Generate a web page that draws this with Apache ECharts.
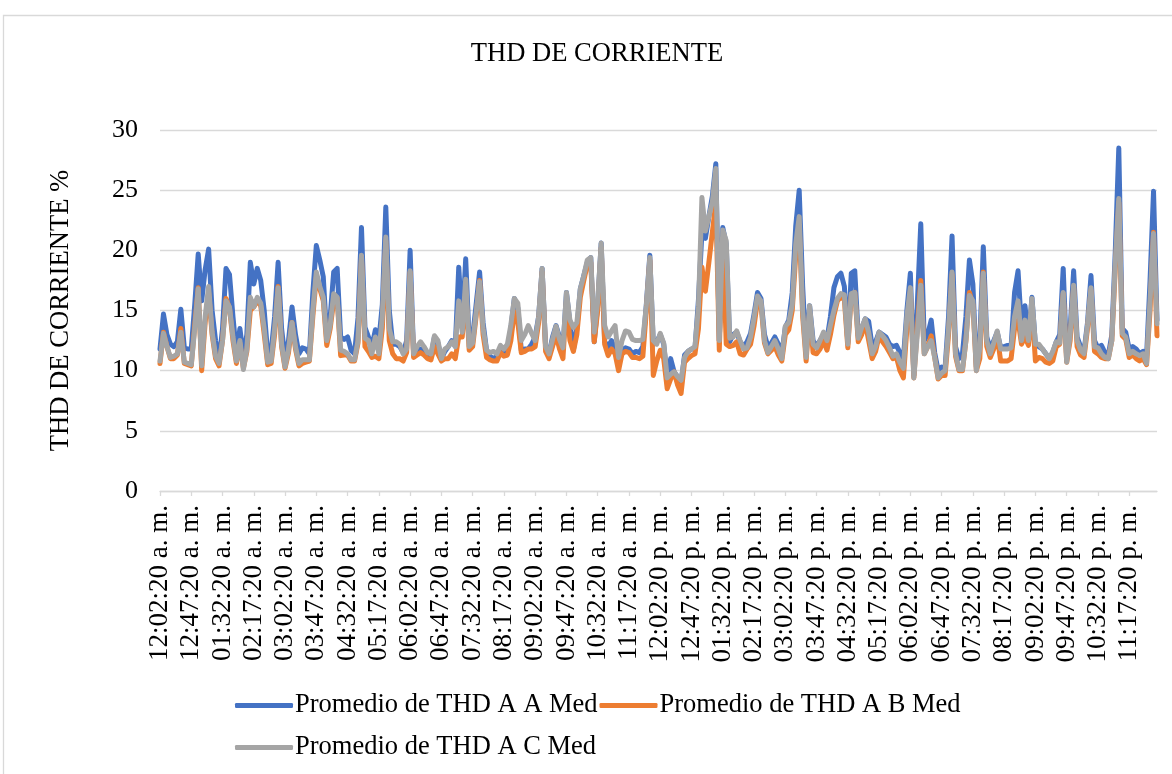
<!DOCTYPE html>
<html>
<head>
<meta charset="utf-8">
<title>THD DE CORRIENTE</title>
<script src="https://cdn.jsdelivr.net/npm/echarts@6/dist/echarts.min.js"></script>
<style>
  html, body { margin: 0; padding: 0; background: #ffffff; }
  #chart { width: 1172px; height: 774px; }
</style>
</head>
<body>
<div id="chart"></div>
<script>
// Time stamps: one reading every 5 minutes over a full day, starting at 12:02:20 a. m.
const startMinute = 2;
const stepMinutes = 5;
const pointCount = 288;
const categories = [];
for (let k = 0; k < pointCount; k++) {
  const total = startMinute + k * stepMinutes;
  const h24 = Math.floor(total / 60);
  const mm = total % 60;
  const h12 = (h24 % 12) === 0 ? 12 : h24 % 12;
  const suffix = h24 < 12 ? 'a. m.' : 'p. m.';
  categories.push(String(h12).padStart(2, '0') + ':' + String(mm).padStart(2, '0') + ':20 ' + suffix);
}

const seriesNames = ['Promedio de THD A A Med', 'Promedio de THD A B Med', 'Promedio de THD A C Med'];

// THD de corriente, fase A (%)
const thdA = [
  11.8, 14.7, 13.0, 12.2, 12.0, 12.4, 15.1, 11.9, 11.8, 11.8,
  15.5, 19.7, 15.8, 18.4, 20.1, 15.0, 12.5, 10.8, 13.5, 18.5,
  18.0, 14.5, 11.4, 13.5, 11.2, 13.0, 19.0, 17.2, 18.5, 17.5,
  15.0, 11.4, 11.6, 14.5, 19.0, 13.5, 11.0, 12.5, 15.3, 13.0,
  11.4, 11.9, 11.8, 11.4, 16.5, 20.4, 19.2, 17.8, 12.8, 14.5,
  18.2, 18.5, 12.8, 12.6, 12.8, 11.7, 11.4, 14.4, 21.9, 13.6,
  12.8, 12.0, 13.4, 12.5, 15.5, 23.6, 15.0, 12.2, 12.2, 12.0,
  11.5, 12.5, 20.0, 11.4, 11.6, 11.8, 11.6, 11.4, 11.2, 12.8,
  12.3, 11.0, 11.6, 12.0, 12.5, 12.0, 18.6, 13.6, 19.3, 12.5,
  12.8, 15.5, 18.2, 14.0, 11.7, 11.2, 11.0, 11.2, 11.7, 11.4,
  11.6, 13.5, 16.0, 15.2, 11.7, 11.8, 11.8, 12.2, 12.8, 14.5,
  18.5, 12.0, 11.4, 12.8, 13.75, 12.8, 11.8, 16.5, 14.0, 11.7,
  13.5, 16.8, 17.9, 19.0, 19.4, 12.4, 15.5, 20.6, 12.4, 12.0,
  12.5, 11.7, 11.2, 11.7, 11.9, 11.8, 11.4, 11.6, 11.5, 12.0,
  15.5, 19.6, 12.2, 12.4, 13.0, 12.2, 9.4, 11.0, 9.9, 9.5,
  9.0, 11.3, 11.6, 11.8, 11.8, 15.9, 21.5, 21.0, 22.8, 24.5,
  27.2, 12.5, 21.9, 20.5, 12.4, 13.0, 13.2, 12.4, 12.0, 12.4,
  13.1, 14.7, 16.5, 16.0, 13.0, 12.0, 12.3, 12.8, 12.2, 11.4,
  13.6, 14.2, 16.5, 22.0, 25.0, 17.0, 11.4, 15.4, 12.5, 12.0,
  12.5, 13.0, 12.6, 14.5, 16.9, 17.8, 18.1, 17.0, 12.3, 18.1,
  18.3, 12.9, 13.5, 14.3, 14.1, 12.0, 12.4, 13.2, 13.0, 12.8,
  12.2, 12.0, 12.1, 11.5, 11.0, 15.0, 18.1, 9.6, 15.5, 22.2,
  12.5, 13.0, 14.2, 11.5, 10.0, 10.3, 10.2, 14.5, 21.2, 12.0,
  11.0, 11.4, 14.5, 19.2, 17.2, 10.3, 12.5, 20.3, 12.8, 11.8,
  12.5, 13.2, 11.9, 12.0, 12.1, 12.0, 16.5, 18.3, 13.5, 15.4,
  12.5, 16.1, 12.2, 12.0, 11.8, 11.4, 11.0, 11.5, 12.4, 13.0,
  18.5, 11.0, 13.5, 18.3, 12.8, 12.0, 11.6, 14.0, 17.9, 12.5,
  11.9, 12.1, 11.5, 11.3, 13.0, 20.0, 28.5, 13.5, 13.2, 11.8,
  12.0, 11.8, 11.4, 11.6, 11.2, 17.5, 24.9, 14.2
];

// THD de corriente, fase B (%)
const thdB = [
  10.6, 13.2, 12.0, 11.0, 11.0, 11.3, 13.5, 10.6, 10.5, 10.4,
  13.8, 16.9, 10.0, 14.0, 16.5, 13.0, 11.0, 10.4, 12.5, 16.0,
  15.2, 12.5, 10.6, 12.3, 10.2, 11.6, 15.0, 15.3, 15.8, 15.4,
  13.0, 10.5, 10.6, 13.0, 17.0, 12.0, 10.2, 11.5, 14.0, 11.8,
  10.4, 10.6, 10.7, 10.8, 14.5, 17.8, 16.8, 15.8, 12.1, 13.5,
  15.8, 16.0, 11.25, 11.3, 11.3, 10.8, 10.8, 12.3, 19.4, 12.0,
  11.6, 11.1, 11.2, 11.0, 13.5, 20.8, 12.5, 11.4, 11.0, 11.0,
  10.8, 11.5, 18.2, 11.1, 11.3, 11.5, 11.3, 11.0, 10.9, 12.0,
  11.4, 10.8, 11.0, 11.0, 11.4, 11.0, 12.8, 12.8, 16.7, 11.7,
  12.0, 14.5, 17.5, 13.0, 11.1, 10.9, 10.8, 10.8, 11.5, 11.2,
  11.3, 12.5, 14.9, 14.0, 11.5, 11.6, 11.8, 11.8, 12.0, 14.0,
  18.2, 11.6, 11.0, 12.0, 13.0, 11.8, 11.0, 15.8, 12.5, 11.6,
  13.0, 16.1, 17.5, 18.8, 19.0, 12.4, 15.0, 20.2, 12.2, 11.25,
  11.8, 11.4, 10.0, 11.4, 11.6, 11.5, 11.1, 11.1, 11.0, 11.2,
  15.0, 19.2, 9.6, 10.8, 11.7, 11.0, 8.5, 9.3, 9.9, 8.8,
  8.1, 10.7, 11.0, 11.25, 11.4, 13.5, 18.6, 16.6, 19.0, 21.5,
  24.0, 11.7, 21.0, 12.2, 12.0, 12.1, 12.4, 11.4, 11.3, 11.8,
  12.2, 13.7, 15.8, 15.5, 12.3, 11.4, 11.7, 12.0, 11.3, 10.8,
  13.0, 13.4, 15.0, 19.5, 22.0, 14.5, 10.8, 14.8, 11.5, 11.4,
  11.8, 12.5, 11.7, 13.0, 14.6, 15.8, 16.1, 15.9, 11.9, 16.3,
  16.5, 12.4, 13.0, 14.0, 12.5, 11.0, 11.6, 12.9, 12.4, 12.0,
  11.5, 11.0, 11.1, 10.0, 9.4, 13.5, 16.6, 9.4, 13.5, 17.5,
  11.4, 12.0, 12.9, 11.1, 9.3, 9.6, 9.6, 13.0, 18.0, 11.2,
  10.0, 10.0, 12.5, 16.5, 15.5, 10.0, 11.0, 18.2, 12.0, 11.1,
  11.8, 12.9, 10.8, 10.8, 10.8, 11.0, 13.5, 14.2, 12.2, 12.8,
  12.1, 15.3, 10.8, 11.1, 11.0, 10.7, 10.6, 10.8, 12.0, 12.2,
  16.4, 10.7, 12.5, 17.0, 12.0, 11.3, 11.1, 13.5, 16.7, 11.6,
  11.4, 11.1, 11.0, 11.0, 12.5, 18.5, 24.0, 12.9, 12.6, 11.1,
  11.3, 11.0, 10.8, 11.0, 10.5, 15.0, 21.5, 12.9
];

// THD de corriente, fase C (%)
const thdC = [
  10.8, 13.1, 12.0, 11.1, 11.2, 11.4, 13.2, 10.7, 10.6, 10.5,
  13.5, 16.8, 10.4, 14.5, 17.0, 13.2, 11.2, 10.6, 12.5, 15.8,
  15.3, 12.8, 10.8, 12.5, 10.1, 11.8, 16.1, 15.3, 16.1, 15.6,
  13.5, 10.7, 10.8, 13.5, 16.9, 12.2, 10.3, 11.8, 14.0, 12.0,
  10.6, 10.9, 10.9, 10.9, 15.0, 18.2, 17.0, 16.1, 12.5, 13.8,
  16.4, 16.1, 11.7, 11.6, 11.4, 10.9, 10.9, 12.5, 19.6, 12.7,
  12.5, 11.4, 12.8, 11.4, 14.5, 21.1, 13.5, 12.4, 12.4, 12.2,
  11.4, 11.8, 18.3, 11.4, 12.0, 12.4, 12.0, 11.5, 11.4, 12.9,
  12.5, 11.0, 11.8, 12.0, 12.4, 12.0, 15.8, 13.2, 17.6, 12.0,
  12.3, 14.8, 17.4, 13.5, 11.7, 11.5, 11.6, 11.4, 12.1, 11.8,
  12.2, 13.8, 16.0, 15.6, 12.5, 13.0, 13.75, 13.1, 12.5, 14.5,
  18.5, 12.0, 11.4, 12.6, 13.7, 12.6, 11.9, 16.5, 14.2, 13.6,
  14.0, 16.8, 17.9, 19.2, 19.4, 13.2, 15.8, 20.6, 13.75, 12.8,
  13.3, 13.75, 11.1, 12.5, 13.3, 13.2, 12.6, 12.5, 12.5, 12.6,
  15.4, 19.4, 12.5, 12.2, 13.1, 12.3, 9.4, 9.7, 9.9, 9.5,
  9.2, 11.1, 11.6, 11.8, 12.0, 15.3, 24.4, 21.6, 22.8, 24.0,
  26.8, 12.5, 21.7, 20.8, 12.7, 12.8, 13.3, 12.5, 11.8, 11.9,
  12.8, 14.4, 16.2, 15.8, 12.5, 11.5, 12.0, 12.5, 11.8, 11.0,
  13.7, 14.0, 15.5, 20.5, 22.8, 15.0, 11.1, 15.4, 12.2, 11.9,
  12.5, 13.2, 12.5, 13.8, 15.0, 16.0, 16.4, 16.3, 12.2, 16.4,
  16.5, 12.7, 13.6, 14.3, 13.2, 11.4, 12.0, 13.2, 12.9, 12.5,
  11.9, 11.2, 11.4, 10.7, 10.2, 14.5, 16.9, 9.4, 13.0, 17.1,
  11.4, 12.0, 12.5, 11.1, 9.4, 9.8, 10.0, 13.5, 18.2, 11.4,
  10.1, 10.1, 12.5, 16.25, 15.8, 10.0, 11.9, 18.1, 12.5, 11.4,
  12.3, 13.3, 11.8, 11.8, 11.8, 11.9, 14.5, 15.8, 12.5, 14.2,
  12.5, 16.0, 12.2, 12.2, 11.8, 11.4, 11.0, 11.6, 12.4, 12.3,
  16.5, 10.7, 13.0, 17.1, 12.5, 11.7, 11.4, 13.8, 16.9, 12.0,
  11.9, 11.4, 11.1, 11.0, 12.5, 19.0, 24.3, 13.1, 12.8, 11.4,
  11.6, 11.4, 11.25, 11.4, 10.6, 15.8, 21.4, 13.9
];

const seriesColors = ['#4472C4', '#ED7D31', '#A5A5A5'];
const fontFamily = "'Liberation Serif', 'Times New Roman', serif";
const textColor = '#000000';
const gridColor = '#d9d9d9';

const chart = echarts.init(document.getElementById('chart'), null, { renderer: 'canvas' });

function lineSeries(name, values, color) {
  return {
    name: name,
    type: 'line',
    data: values,
    showSymbol: false,
    symbol: 'none',
    lineStyle: { color: color, width: 5, cap: 'round', join: 'round' },
    itemStyle: { color: color },
    emphasis: { disabled: true }
  };
}

const legendText = { fontFamily: fontFamily, fontSize: 26.5, color: textColor, padding: [0, 0, 0, -3] };

chart.setOption({
  animation: false,
  backgroundColor: '#ffffff',
  graphic: [{
    type: 'rect',
    z: -10,
    shape: { x: 3.5, y: 15.5, width: 1400, height: 900 },
    style: { fill: 'none', stroke: gridColor, lineWidth: 1.3 }
  }],
  title: {
    text: 'THD DE CORRIENTE',
    left: 592,
    top: 36,
    textAlign: 'center',
    textStyle: { fontFamily: fontFamily, fontSize: 26.6, fontWeight: 'normal', color: textColor }
  },
  legend: [
    {
      data: [seriesNames[0], seriesNames[1]],
      left: 235,
      top: 692,
      padding: 0,
      orient: 'horizontal',
      icon: 'roundRect',
      itemWidth: 58,
      itemHeight: 5,
      itemGap: 2,
      textStyle: legendText
    },
    {
      data: [seriesNames[2]],
      left: 235,
      top: 734,
      padding: 0,
      icon: 'roundRect',
      itemWidth: 58,
      itemHeight: 5,
      textStyle: legendText
    }
  ],
  grid: { left: 160, right: 15, top: 130, bottom: 283, containLabel: false },
  xAxis: {
    type: 'category',
    data: categories,
    boundaryGap: false,
    axisLine: { show: true, lineStyle: { color: gridColor, width: 1.3 } },
    axisTick: { show: true, interval: 8, length: 5, lineStyle: { color: gridColor, width: 1.3 } },
    axisLabel: {
      interval: 8,
      rotate: 90,
      margin: 14,
      padding: [9, 0, 0, 0],
      fontFamily: fontFamily,
      fontSize: 27,
      color: textColor
    },
    splitLine: { show: false }
  },
  yAxis: {
    type: 'value',
    min: 0,
    max: 30,
    interval: 5,
    name: 'THD DE CORRIENTE %',
    nameLocation: 'middle',
    nameGap: 85,
    nameTextStyle: { fontFamily: fontFamily, fontSize: 26.6, color: textColor },
    axisLine: { show: false },
    axisTick: { show: false },
    axisLabel: { margin: 22, fontFamily: fontFamily, fontSize: 26, color: textColor },
    splitLine: { show: true, lineStyle: { color: gridColor, width: 1.3 } }
  },
  series: [
    lineSeries(seriesNames[0], thdA, seriesColors[0]),
    lineSeries(seriesNames[1], thdB, seriesColors[1]),
    lineSeries(seriesNames[2], thdC, seriesColors[2])
  ]
});
</script>
</body>
</html>
